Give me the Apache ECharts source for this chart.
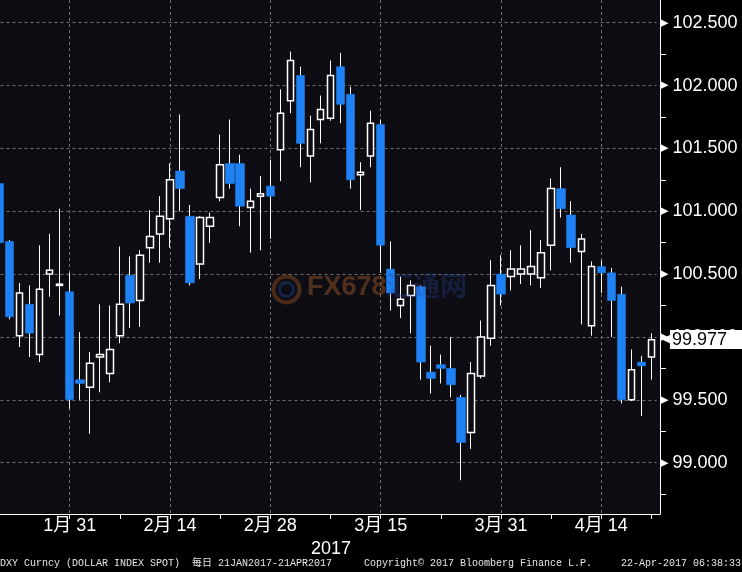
<!DOCTYPE html>
<html>
<head>
<meta charset="utf-8">
<script src="https://cdn.jsdelivr.net/npm/echarts@6/dist/echarts.min.js"></script>
<style>html,body{margin:0;padding:0;background:#000;}#c{width:742px;height:572px;}</style>
</head>
<body>
<div id="c"></div>
<script>
// ---- data (DXY daily) ----
const dates = [
  '1/20','1/23','1/24','1/25','1/26','1/27','1/30','1/31',
  '2/1','2/2','2/3','2/6','2/7','2/8','2/9','2/10','2/13','2/14','2/15','2/16','2/17',
  '2/20','2/21','2/22','2/23','2/24','2/27','2/28',
  '3/1','3/2','3/3','3/6','3/7','3/8','3/9','3/10','3/13','3/14','3/15','3/16','3/17',
  '3/20','3/21','3/22','3/23','3/24','3/27','3/28','3/29','3/30','3/31',
  '4/3','4/4','4/5','4/6','4/7','4/10','4/11','4/12','4/13','4/14','4/17','4/18','4/19','4/20','4/21'
];
const open = [
  101.22,100.76,100.01,100.26,99.86,100.50,100.41,100.36,
  99.66,99.60,99.84,99.71,100.01,100.49,100.29,100.71,100.82,100.94,101.32,100.96,100.58,
  100.88,101.11,101.38,101.38,101.03,101.12,101.20,
  101.49,101.88,102.08,101.44,101.73,101.74,102.15,101.93,101.29,101.44,101.69,100.54,100.25,
  100.33,100.40,99.72,99.78,99.75,99.52,99.24,99.69,99.99,100.50,
  100.48,100.50,100.50,100.47,100.73,101.18,100.97,100.68,100.09,100.56,100.51,100.34,99.50,99.80,99.84
];
const high = [
  101.30,100.77,100.43,100.41,100.73,100.82,101.02,100.51,
  100.04,99.88,100.26,100.25,100.72,100.64,100.69,101.01,101.12,101.38,101.77,101.05,100.96,
  100.99,101.61,101.73,101.45,101.18,101.28,101.41,
  101.97,102.27,102.15,101.76,101.92,102.20,102.26,101.99,101.39,101.80,101.73,100.76,100.48,
  100.45,100.41,99.93,99.86,100.00,99.54,99.80,100.13,100.61,100.65,
  100.69,100.73,100.85,100.77,101.26,101.35,101.08,100.82,100.60,100.61,100.55,100.40,99.90,99.85,100.03
];
const low = [
  100.70,100.14,99.92,99.84,99.80,100.32,100.17,99.43,
  99.50,99.23,99.56,99.64,99.95,100.07,100.08,100.59,100.59,100.71,101.00,100.41,100.46,
  100.75,101.08,101.18,100.88,100.67,100.69,100.78,
  101.24,101.78,101.35,101.23,101.54,101.72,101.70,101.18,101.01,101.35,100.51,100.21,100.15,
  100.03,99.66,99.55,99.63,99.52,98.86,99.11,99.67,99.93,100.25,
  100.37,100.42,100.41,100.39,100.53,100.95,100.59,100.10,100.01,100.35,100.00,99.47,99.49,99.37,99.66
];
const close = [
  100.75,100.16,100.35,100.03,100.38,100.53,100.42,99.50,
  99.63,99.79,99.86,99.90,100.26,100.27,100.65,100.80,100.96,101.25,101.18,100.43,100.95,
  100.95,101.37,101.22,101.04,101.08,101.14,101.12,
  101.78,102.20,101.54,101.65,101.81,102.08,101.85,101.25,101.31,101.70,100.73,100.35,100.30,
  100.41,99.80,99.67,99.75,99.62,99.16,99.71,100.00,100.41,100.34,
  100.54,100.54,100.56,100.67,101.18,101.02,100.71,100.78,100.56,100.51,100.29,99.50,99.74,99.77,99.977
];
const labelDates = ['1/31','2/14','2/28','3/15','3/31','4/14'];
const tickDates = ['1/31','2/7','2/14','2/21','2/28','3/8','3/15','3/23','3/31','4/7','4/14','4/21'];
const axisYear = '2017';
const lastPrice = close[close.length - 1];

// ---- derived series data ----
const NA = ['-','-','-','-'];
const wickData = dates.map((d, i) => [open[i], close[i], low[i], high[i]]);
const upData = dates.map((d, i) => close[i] >= open[i] ? [open[i], close[i], open[i], close[i]] : NA);
const downData = dates.map((d, i) => close[i] < open[i] ? [open[i], close[i], close[i], open[i]] : NA);

const BG = '#0d0d13', BLUE = '#1e82f5', GRIDC = '#6e6e6e';
const SANS = '"Liberation Sans", "Noto Sans CJK SC", sans-serif';
const MONO = '"Liberation Mono", "Noto Sans CJK SC", monospace';

const chart = echarts.init(document.getElementById('c'), null, {renderer: 'canvas'});
const option = {
  backgroundColor: '#000',
  animation: false,
  grid: [
    {left: -5.5, right: 82, top: 0, bottom: 58, show: true, backgroundColor: BG, borderWidth: 0, z: -1,
     outerBoundsMode: 'none', containLabel: false},
    {left: -5.5, right: 85.5, top: -40.15, bottom: 46.5, outerBoundsMode: 'none', containLabel: false},
    {left: -0.5, right: 90.55, top: 0, bottom: 58, outerBoundsMode: 'none', containLabel: false}
  ],
  xAxis: [
    {gridIndex: 0, type: 'value', min: 0, max: 1,
     axisLine: {show: true, onZero: false, lineStyle: {color: '#fff', width: 1}},
     axisTick: {show: false}, axisLabel: {show: false}, splitLine: {show: false}},
    {gridIndex: 1, type: 'category', data: dates, offset: -11.5,
     axisLine: {show: false},
     axisTick: {show: true, alignWithLabel: true, interval: (i, v) => tickDates.includes(v), length: 5,
                lineStyle: {color: '#fff', width: 1}},
     axisLabel: {interval: (i, v) => labelDates.includes(v), margin: 3, color: '#fff', fontSize: 18, fontFamily: SANS,
                 formatter: v => { const p = v.split('/'); return p[0] + '月 ' + p[1]; }},
     splitLine: {show: false},
     name: axisYear, nameLocation: 'middle', nameGap: 21,
     nameTextStyle: {color: '#fff', fontSize: 18, fontFamily: SANS, padding: [0, 0, 0, 11]}},
    {gridIndex: 2, type: 'category', data: dates, boundaryGap: false,
     axisLine: {show: false}, axisTick: {show: false}, axisLabel: {show: false},
     splitLine: {show: true, interval: (i, v) => labelDates.includes(v), lineStyle: {color: GRIDC, type: [3, 3], width: 1}}}
  ],
  yAxis: [
    {gridIndex: 0, type: 'value', position: 'right', min: 0, max: 1,
     axisLine: {show: true, onZero: false, lineStyle: {color: '#fff', width: 1}},
     axisTick: {show: false}, axisLabel: {show: false}, splitLine: {show: false}},
    {gridIndex: 1, type: 'value', position: 'right', offset: 3.5, min: 98.5, max: 103, interval: 0.5,
     axisLine: {show: false}, axisTick: {show: false},
     minorTick: {show: true, splitNumber: 2, length: 6, lineStyle: {color: '#fff', width: 1}},
     minorSplitLine: {show: false},
     axisLabel: {margin: 0,
       formatter: v => (v < 98.9 || v > 102.6) ? '' : '{t|▶}{v|' + v.toFixed(3) + '}',
       rich: {
         t: {color: '#fff', fontSize: 11, fontFamily: '"DejaVu Sans"', padding: [0, 4, 0, 0]},
         v: {color: '#fff', fontSize: 18, fontFamily: SANS}
       }},
     splitLine: {show: true, showMinLine: false, showMaxLine: false, lineStyle: {color: GRIDC, type: [3, 3], width: 1}}},
    {gridIndex: 2, type: 'value', min: 0, max: 1, axisLine: {show: false}, axisTick: {show: false},
     axisLabel: {show: false}, splitLine: {show: false}}
  ],
  series: [
    {name: 'wick', type: 'candlestick', xAxisIndex: 1, yAxisIndex: 1, data: wickData, barWidth: 0.1,
     itemStyle: {color: '#fff', color0: '#fff', borderColor: '#fff', borderColor0: '#fff', borderWidth: 1},
     markLine: {silent: true, symbol: ['none', 'none'], animation: false,
       lineStyle: {color: 'rgba(0,0,0,0)', width: 1, type: 'solid'},
       label: {show: true, position: 'end', distance: 5,
         formatter: () => '{a|◀}{b|' + lastPrice.toFixed(3) + '}',
         rich: {
           a: {color: '#fff', fontSize: 11, fontFamily: '"DejaVu Sans"'},
           b: {backgroundColor: '#fff', color: '#000', fontSize: 18, fontFamily: SANS, padding: [1, 40, 0, 2]}
         }},
       data: [{yAxis: lastPrice}]}},
    {name: 'up', type: 'candlestick', xAxisIndex: 1, yAxisIndex: 1, data: upData, barWidth: 7,
     itemStyle: {color: BG, color0: BG, borderColor: '#fff', borderColor0: '#fff', borderWidth: 1.5}},
    {name: 'down', type: 'candlestick', xAxisIndex: 1, yAxisIndex: 1, data: downData, barWidth: 9,
     itemStyle: {color: BLUE, color0: BLUE, borderColor: BLUE, borderColor0: BLUE, borderWidth: 0.5}}
  ],
  graphic: [
    {type: 'circle', left: 271, top: 274, shape: {r: 13}, z: 100, silent: true,
     style: {fill: 'none', stroke: 'rgba(190,100,40,0.35)', lineWidth: 4}},
    {type: 'circle', left: 277, top: 280, shape: {r: 7}, z: 100, silent: true,
     style: {fill: 'none', stroke: 'rgba(40,80,170,0.35)', lineWidth: 3}},
    {type: 'text', left: 307, top: 274, z: 100, silent: true,
     style: {text: 'FX678', fill: 'rgba(190,105,45,0.38)', font: 'bold 27px "Liberation Sans"'}},
    {type: 'text', left: 386, top: 272, z: 100, silent: true,
     style: {text: '汇通网', fill: 'rgba(40,70,160,0.3)', font: 'bold 27px "Noto Sans CJK SC"'}},
    {type: 'text', left: 0, top: 558, silent: true,
     style: {text: 'DXY Curncy (DOLLAR INDEX SPOT)  每日 21JAN2017-21APR2017', fill: '#e6e6e6', font: '10px ' + MONO}},
    {type: 'text', left: 364, top: 558, silent: true,
     style: {text: 'Copyright© 2017 Bloomberg Finance L.P.', fill: '#e6e6e6', font: '10px ' + MONO}},
    {type: 'text', right: 1, top: 558, silent: true,
     style: {text: '22-Apr-2017 06:38:33', fill: '#e6e6e6', font: '10px ' + MONO}}
  ]
};
chart.setOption(option);
</script>
</body>
</html>
